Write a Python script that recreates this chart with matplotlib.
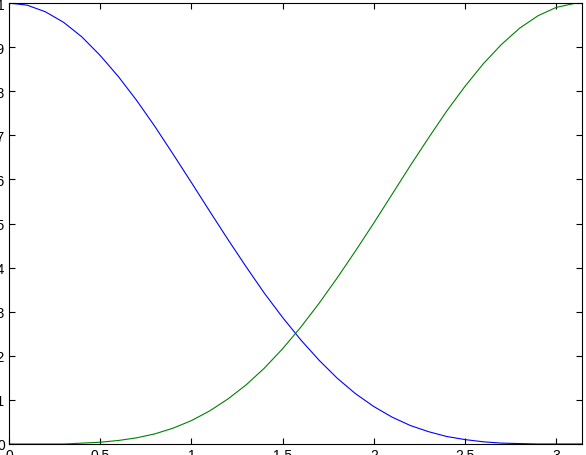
import matplotlib
matplotlib.use('Agg')
import matplotlib.pyplot as plt

x = [0.0, 0.1, 0.2, 0.3, 0.4, 0.5, 0.6, 0.7, 0.8, 0.9,
     1.0, 1.1, 1.2, 1.3, 1.4, 1.5, 1.6, 1.7, 1.8, 1.9,
     2.0, 2.1, 2.2, 2.3, 2.4, 2.5, 2.6, 2.7, 2.8, 2.9,
     3.0, 3.1, 3.1416]
blue = [1.000, 0.995, 0.980, 0.956, 0.923, 0.881, 0.833, 0.779, 0.720, 0.657,
        0.593, 0.528, 0.464, 0.402, 0.342, 0.287, 0.236, 0.190, 0.149, 0.114,
        0.085, 0.061, 0.042, 0.028, 0.017, 0.010, 0.005, 0.002, 0.001, 0.000,
        0.000, 0.000, 0.000]
green = [0.000, 0.000, 0.000, 0.000, 0.002, 0.004, 0.008, 0.014, 0.023, 0.036,
         0.053, 0.075, 0.102, 0.134, 0.172, 0.216, 0.265, 0.319, 0.377, 0.438,
         0.501, 0.566, 0.631, 0.694, 0.755, 0.811, 0.862, 0.906, 0.943, 0.971,
         0.990, 0.999, 1.000]

xticks = [0, 0.5, 1, 1.5, 2, 2.5, 3]
xtick_labels = ['0', '0.5', '1', '1.5', '2', '2.5', '3']
yticks = [0, 0.1, 0.2, 0.3, 0.4, 0.5, 0.6, 0.7, 0.8, 0.9, 1]
ytick_labels = ['0', '0.1', '0.2', '0.3', '0.4', '0.5', '0.6', '0.7', '0.8', '0.9', '1']

plt.rcParams['font.family'] = ['Liberation Sans', 'DejaVu Sans']

fig = plt.figure(figsize=(5.86, 4.56), dpi=100)
ax = fig.add_axes([9 / 586, 11 / 456, 573 / 586, 441 / 456])

ax.plot(x, blue, color=(0, 0, 1), linewidth=0.8)
ax.plot(x, green, color=(0, 0.5, 0), linewidth=0.8)

ax.set_xlim(0, 3.1416)
ax.set_ylim(0, 1)
ax.set_xticks(xticks)
ax.set_xticklabels(xtick_labels)
ax.set_yticks(yticks)
ax.set_yticklabels(ytick_labels)
ax.tick_params(direction='in', length=4.5, width=0.8, top=True, right=True,
               labelsize=10, pad=3)
for s in ax.spines.values():
    s.set_linewidth(0.8)

fig.savefig('out.png', dpi=100)
